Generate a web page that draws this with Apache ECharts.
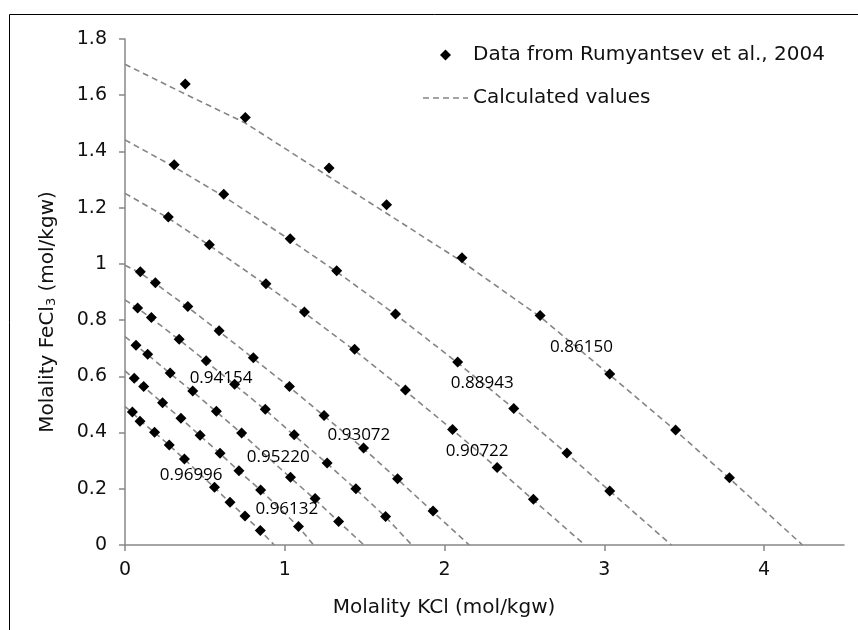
<!DOCTYPE html>
<html>
<head>
<meta charset="utf-8">
<script src="https://cdn.jsdelivr.net/npm/echarts@6/dist/echarts.min.js"></script>
<style>html,body{margin:0;padding:0;background:#fff}#c{width:858px;height:630px}</style>
</head>
<body>
<div id="c"></div>
<script>
// Measured data (Rumyantsev et al., 2004): [KCl, FeCl3] in mol/kgw
const data86150 = [[0.377,1.640],[0.753,1.521],[1.277,1.341],[1.637,1.210],[2.109,1.022],[2.598,0.816],[3.034,0.608],[3.446,0.409],[3.783,0.239]];
const data88943 = [[0.308,1.353],[0.618,1.248],[1.034,1.089],[1.325,0.976],[1.693,0.822],[2.082,0.651],[2.433,0.486],[2.766,0.327],[3.034,0.192]];
const data90722 = [[0.271,1.167],[0.528,1.068],[0.882,0.929],[1.123,0.829],[1.437,0.696],[1.755,0.551],[2.050,0.411],[2.329,0.276],[2.556,0.163]];
const data93072 = [[0.096,0.972],[0.190,0.933],[0.393,0.848],[0.589,0.762],[0.803,0.666],[1.029,0.564],[1.246,0.461],[1.493,0.345],[1.706,0.236],[1.928,0.121]];
const data94154 = [[0.079,0.843],[0.165,0.809],[0.339,0.732],[0.508,0.655],[0.686,0.572],[0.878,0.483],[1.059,0.392],[1.265,0.292],[1.445,0.200],[1.631,0.101]];
const data95220 = [[0.069,0.711],[0.142,0.679],[0.283,0.612],[0.424,0.548],[0.572,0.476],[0.730,0.398],[1.036,0.241],[1.190,0.165],[1.337,0.084]];
const data96132 = [[0.058,0.593],[0.117,0.564],[0.235,0.506],[0.350,0.451],[0.470,0.390],[0.595,0.326],[0.713,0.264],[0.849,0.196],[1.086,0.066]];
const data96996 = [[0.046,0.473],[0.094,0.440],[0.185,0.401],[0.277,0.356],[0.372,0.306],[0.560,0.205],[0.657,0.152],[0.751,0.103],[0.847,0.052]];

// Calculated curves
const calc86150 = [[0,1.71],[0.377,1.604],[0.75,1.502],[1.277,1.31],[1.637,1.18],[2.109,1.008],[2.598,0.812],[3.034,0.605],[3.446,0.407],[3.783,0.237],[4.24,0]];
const calc88943 = [[0,1.441],[0.308,1.345],[0.618,1.24],[1.034,1.085],[1.325,0.972],[1.693,0.82],[2.082,0.648],[2.433,0.486],[2.766,0.325],[3.034,0.192],[3.42,0]];
const calc90722 = [[0,1.251],[0.271,1.163],[0.528,1.066],[0.882,0.925],[1.123,0.826],[1.437,0.692],[1.755,0.548],[2.05,0.41],[2.329,0.274],[2.556,0.16],[2.878,0]];
const calc93072 = [[0,0.995],[0.096,0.968],[0.19,0.93],[0.393,0.846],[0.589,0.76],[0.803,0.664],[1.029,0.562],[1.246,0.459],[1.493,0.343],[1.706,0.234],[1.928,0.118],[2.155,0]];
const calc94154 = [[0,0.872],[0.079,0.842],[0.165,0.807],[0.339,0.73],[0.508,0.653],[0.686,0.57],[0.878,0.481],[1.059,0.39],[1.265,0.29],[1.445,0.198],[1.631,0.1],[1.795,0]];
const calc95220 = [[0,0.741],[0.069,0.71],[0.142,0.677],[0.283,0.61],[0.424,0.546],[0.572,0.474],[0.73,0.397],[1.036,0.239],[1.19,0.162],[1.337,0.083],[1.495,0]];
const calc96132 = [[0,0.619],[0.058,0.592],[0.117,0.563],[0.235,0.505],[0.35,0.45],[0.47,0.389],[0.595,0.325],[0.713,0.263],[0.849,0.195],[1.086,0.065],[1.18,0]];
const calc96996 = [[0,0.492],[0.046,0.472],[0.094,0.443],[0.185,0.4],[0.277,0.355],[0.372,0.305],[0.56,0.204],[0.657,0.151],[0.751,0.102],[0.847,0.051],[0.934,0]];

// Water activity labels
const labelText = ['0.86150','0.88943','0.90722','0.93072','0.94154','0.95220','0.96132','0.96996'];
const labelX = [2.857, 2.236, 2.204, 1.464, 0.601, 0.959, 1.013, 0.414];
const labelY = [0.705, 0.577, 0.335, 0.389, 0.595, 0.312, 0.127, 0.248];

const xTicks = [0,1,2,3,4];
const yTicks = [0,0.2,0.4,0.6,0.8,1,1.2,1.4,1.6,1.8];

const measured = [data86150,data88943,data90722,data93072,data94154,data95220,data96132,data96996];
const calculated = [calc86150,calc88943,calc90722,calc93072,calc94154,calc95220,calc96132,calc96996];

const FONT = 'DejaVu Sans';
const series = [];
calculated.forEach(c => series.push({
  name: 'Calculated values', type: 'line', data: c, symbol: 'none', silent: true,
  itemStyle: {color: '#858585'},
  lineStyle: {color: '#858585', width: 1.6, type: [6, 4]}, z: 1
}));
series.push({
  name: 'Data from Rumyantsev et al., 2004', type: 'scatter',
  data: [].concat(...measured), symbol: 'diamond', symbolSize: 11,
  itemStyle: {color: '#000', opacity: 1}, z: 3
});
series.push({
  name: 'labels', type: 'scatter', symbolSize: 1, silent: true, z: 4,
  itemStyle: {color: '#fff', opacity: 0},
  data: labelText.map((t, i) => ({name: t, value: [labelX[i], labelY[i]]})),
  label: {show: true, position: 'inside', formatter: p => p.name, opacity: 1,
          fontFamily: 'Open Sans', fontSize: 17, color: '#000', textBorderWidth: 0}
});

const chart = echarts.init(document.getElementById('c'), null, {renderer: 'canvas'});
chart.setOption({
  animation: false,
  backgroundColor: '#fff',
  grid: {left: 125, right: 14, top: 39, bottom: 85, containLabel: false},
  xAxis: {
    type: 'value', min: 0, max: 4.5, interval: 1,
    axisLine: {show: true, onZero: false, lineStyle: {color: '#888', width: 1.5}},
    axisTick: {show: true, length: 6, customValues: xTicks, lineStyle: {color: '#888', width: 1.5}},
    axisLabel: {customValues: xTicks, margin: 16, fontFamily: FONT, fontSize: 19, color: '#111'},
    splitLine: {show: false}
  },
  yAxis: {
    type: 'value', min: 0, max: 1.8, interval: 0.2,
    axisLine: {show: true, onZero: false, lineStyle: {color: '#888', width: 1.5}},
    axisTick: {show: true, length: 6, customValues: yTicks, lineStyle: {color: '#888', width: 1.5}},
    axisLabel: {customValues: yTicks, margin: 18, fontFamily: FONT, fontSize: 19, color: '#111'},
    splitLine: {show: false}
  },
  legend: {
    orient: 'vertical', left: 418, top: 40, itemWidth: 45, itemHeight: 11, itemGap: 23,
    symbolKeepAspect: true, selectedMode: false,
    textStyle: {fontFamily: FONT, fontSize: 20, color: '#111'},
    data: [
      {name: 'Data from Rumyantsev et al., 2004', icon: 'path://M0,-1L1,0L0,1L-1,0Z'},
      {name: 'Calculated values', icon: 'path://M0 0h6v1.6H0zM10 0h6v1.6h-6zM20 0h6v1.6h-6zM30 0h6v1.6h-6zM40 0h5v1.6h-5z'}
    ]
  },
  graphic: [
    {type: 'rect', silent: true, shape: {x: 9.5, y: 14.5, width: 900, height: 700},
     style: {fill: 'none', stroke: '#000', lineWidth: 1}},
    {type: 'text', silent: true, x: 444, y: 608,
     style: {text: 'Molality KCl (mol/kgw)', font: '20px "DejaVu Sans"', fill: '#111', align: 'center', verticalAlign: 'middle'}},
    {type: 'text', silent: true, x: 48, y: 312, rotation: Math.PI / 2,
     style: {text: '{a|Molality FeCl}{s|3}{a| (mol/kgw)}', align: 'center', verticalAlign: 'middle',
       rich: {a: {fontFamily: FONT, fontSize: 20, fill: '#111', color: '#111'},
              s: {fontFamily: FONT, fontSize: 13, fill: '#111', color: '#111', verticalAlign: 'bottom', padding: [8, 0, 0, 0]}}}}
  ],
  series: series
});
</script>
</body>
</html>
